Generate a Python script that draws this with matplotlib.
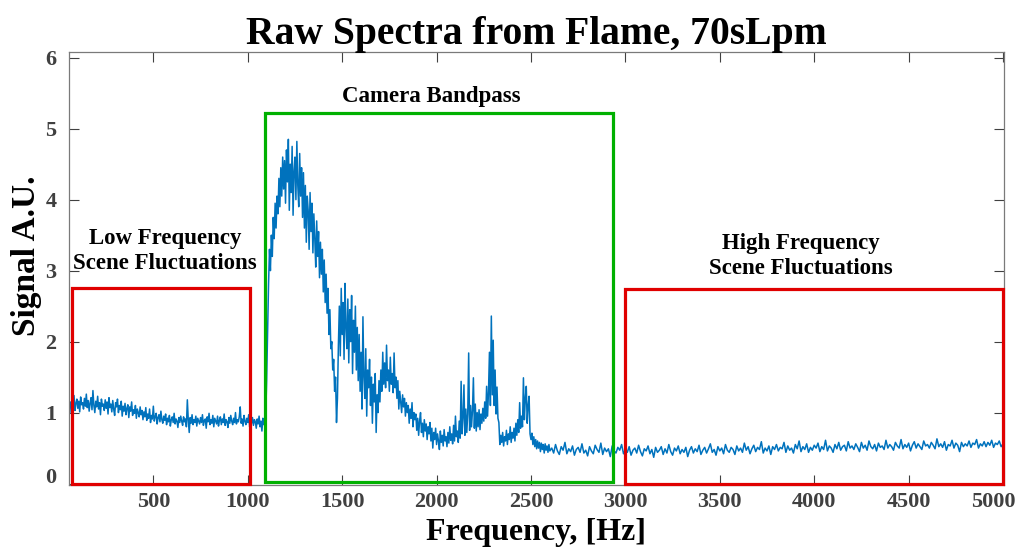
import numpy as np
import matplotlib
matplotlib.use("Agg")
import matplotlib.pyplot as plt
import matplotlib.transforms as mtransforms
from matplotlib.patches import Rectangle

# Spectrum sampled on three frequency grids [Hz]
freq_low = np.arange(50, 1090, 5)
signal_low = [
    1.21, 1.08, 1.15, 0.99, 1.17, 1.10, 1.24, 1.03, 1.13, 1.19, 1.06, 1.16, 1.01, 1.22, 1.11, 1.14, 1.05, 1.20, 1.09, 1.26,
    1.07, 1.17, 1.02, 1.13, 1.21, 1.04, 1.31, 1.10, 1.00, 1.16, 1.08, 1.23, 1.05, 1.14, 0.97, 1.19, 1.09, 1.12, 1.03, 1.18,
    1.06, 1.15, 0.98, 1.21, 1.07, 1.12, 1.01, 1.17, 1.05, 0.96, 1.14, 1.08, 1.19, 1.00, 1.10, 1.04, 1.16, 0.95, 1.09, 1.02,
    1.13, 0.97, 1.06, 1.11, 0.93, 1.08, 1.02, 1.15, 0.96, 1.04, 0.99, 1.10, 0.92, 1.05, 1.00, 0.94, 1.08, 0.97, 1.03, 0.90,
    1.01, 0.94, 1.07, 0.89, 0.98, 0.92, 1.05, 0.86, 0.96, 0.91, 1.09, 0.88, 0.94, 0.99, 0.84, 0.93, 0.97, 0.87, 1.02, 0.90,
    0.85, 0.95, 0.89, 0.98, 0.83, 0.92, 0.87, 0.96, 0.81, 0.90, 0.94, 0.86, 0.99, 0.84, 0.91, 0.88, 0.79, 0.93, 0.86, 0.95,
    0.88, 0.82, 0.94, 0.87, 0.91, 0.80, 1.18, 0.89, 0.72, 0.93, 0.85, 0.97, 0.83, 0.90, 0.86, 0.95, 0.81, 0.92, 0.88, 0.84,
    0.93, 0.86, 0.97, 0.82, 0.89, 0.91, 0.78, 0.94, 0.87, 0.99, 0.83, 0.90, 0.85, 0.96, 0.80, 0.92, 0.88, 0.84, 0.95, 0.81,
    0.89, 0.94, 0.83, 0.91, 0.86, 0.98, 0.82, 0.90, 0.87, 0.79, 0.93, 0.85, 0.96, 0.88, 0.83, 0.92, 0.86, 1.00, 0.84, 0.90,
    0.87, 0.94, 1.08, 0.85, 0.91, 0.81, 0.96, 0.88, 0.83, 0.92, 0.86, 0.97, 0.80, 0.89, 0.85, 0.93, 0.82, 0.90, 0.87, 0.78,
    0.91, 0.84, 0.95, 0.80, 0.88, 0.74, 0.92, 0.83,
]

freq_cam = np.arange(1090, 2605, 5)
signal_cam = [
    0.84, 0.95, 1.45, 2.10, 2.80, 3.30, 3.00, 3.50, 3.20, 3.75, 3.45, 3.95, 3.60, 4.05, 3.80, 4.30, 3.90, 4.45, 4.05, 4.60,
    4.15, 4.55, 3.95, 4.70, 4.25, 4.85, 3.85, 4.50, 4.10, 4.75, 3.78, 4.40, 4.60, 4.00, 4.82, 4.20, 3.90, 4.65, 4.05, 4.45,
    3.75, 4.38, 3.60, 4.20, 3.40, 4.05, 3.85, 3.30, 4.10, 3.55, 3.95, 3.25, 3.80, 3.45, 3.05, 3.70, 3.20, 3.55, 2.90, 3.40,
    2.95, 3.30, 2.70, 3.15, 2.55, 2.95, 2.40, 2.75, 2.10, 2.45, 1.90, 2.00, 1.60, 1.75, 1.30, 1.50, 0.86, 1.20, 1.95, 2.50,
    1.80, 2.75, 2.10, 2.55, 1.75, 2.82, 2.20, 1.90, 2.60, 1.70, 2.45, 2.00, 2.65, 1.55, 2.30, 1.85, 2.50, 1.60, 2.20, 1.45,
    2.10, 1.30, 1.85, 1.05, 2.35, 1.50, 1.20, 1.90, 0.95, 1.60, 1.35, 1.75, 1.10, 1.50, 0.85, 1.40, 1.15, 1.55, 0.72, 1.25,
    1.00, 1.45, 1.15, 1.60, 1.30, 1.85, 1.40, 1.70, 1.35, 1.95, 1.45, 1.60, 1.30, 1.78, 1.40, 1.55, 1.28, 1.84, 1.35, 1.50,
    1.20, 1.45, 1.05, 1.30, 1.15, 1.00, 1.25, 1.08, 1.20, 0.95, 1.14, 1.00, 1.10, 0.85, 1.05, 0.92, 1.14, 0.80, 1.00, 0.90,
    0.98, 0.75, 0.92, 0.68, 0.88, 1.00, 0.72, 0.85, 0.66, 0.90, 0.74, 0.84, 0.62, 0.80, 0.70, 0.86, 0.60, 0.78, 0.50, 0.72,
    0.62, 0.78, 0.55, 0.70, 0.60, 0.48, 0.74, 0.58, 0.68, 0.53, 0.76, 0.60, 0.66, 0.52, 0.72, 0.57, 0.80, 0.61, 0.70, 0.56,
    0.82, 0.60, 0.95, 0.66, 0.74, 0.58, 0.88, 0.64, 1.44, 0.70, 0.92, 1.39, 0.68, 1.05, 0.72, 0.98, 1.84, 0.75, 1.10, 0.80,
    1.02, 1.49, 0.78, 1.12, 0.74, 1.00, 0.80, 1.04, 0.76, 0.98, 0.85, 1.06, 0.88, 1.15, 0.92, 1.37, 0.95, 1.30, 1.85, 1.10,
    2.36, 1.25, 2.02, 1.10, 1.60, 0.98, 1.36, 0.92, 0.86, 0.55, 0.68, 0.58, 0.72, 0.53, 0.66, 0.60, 0.75, 0.55, 0.70, 0.62,
    0.80, 0.58, 0.72, 0.64, 0.78, 0.60, 0.85, 0.68, 0.90, 0.72, 1.14, 0.78, 0.95, 0.80, 1.49, 0.90, 1.20, 1.37, 0.85, 1.10,
    1.23, 0.70, 0.62, 0.71, 0.55, 0.66, 0.52, 0.62, 0.49, 0.60, 0.50, 0.58, 0.45, 0.57, 0.48, 0.55, 0.43, 0.56, 0.47, 0.53,
    0.44, 0.55, 0.46,
]

freq_high = np.arange(2610, 5001, 10)
signal_high = [
    0.50, 0.43, 0.55, 0.46, 0.41, 0.52, 0.47, 0.58, 0.42, 0.49, 0.45, 0.53, 0.40, 0.48, 0.51, 0.44, 0.56, 0.43, 0.47, 0.39,
    0.52, 0.46, 0.42, 0.54, 0.48, 0.44, 0.57, 0.41, 0.50, 0.45, 0.49, 0.38, 0.53, 0.46, 0.43, 0.51, 0.47, 0.55, 0.42, 0.48,
    0.44, 0.52, 0.40, 0.47, 0.50, 0.43, 0.54, 0.45, 0.39, 0.49, 0.46, 0.53, 0.42, 0.48, 0.37, 0.51, 0.44, 0.47, 0.52, 0.41,
    0.49, 0.43, 0.55, 0.45, 0.40, 0.50, 0.46, 0.53, 0.42, 0.48, 0.44, 0.51, 0.38, 0.47, 0.52, 0.43, 0.49, 0.45, 0.54, 0.41,
    0.47, 0.51, 0.43, 0.49, 0.56, 0.44, 0.48, 0.40, 0.52, 0.46, 0.50, 0.42, 0.55, 0.47, 0.44, 0.51, 0.48, 0.41, 0.53, 0.46,
    0.50, 0.44, 0.57, 0.47, 0.52, 0.42, 0.49, 0.54, 0.45, 0.51, 0.48, 0.59, 0.43, 0.50, 0.46, 0.53, 0.41, 0.52, 0.48, 0.55,
    0.46, 0.51, 0.49, 0.58, 0.44, 0.53, 0.47, 0.50, 0.43, 0.55, 0.49, 0.60, 0.45, 0.52, 0.48, 0.56, 0.44, 0.51, 0.47, 0.54,
    0.50, 0.57, 0.45, 0.52, 0.48, 0.61, 0.46, 0.53, 0.50, 0.44, 0.55, 0.49, 0.58, 0.47, 0.52, 0.54, 0.46, 0.59, 0.50, 0.53,
    0.48, 0.56, 0.51, 0.45, 0.58, 0.50, 0.54, 0.47, 0.60, 0.52, 0.49, 0.55, 0.46, 0.57, 0.51, 0.53, 0.48, 0.61, 0.50, 0.55,
    0.52, 0.47, 0.58, 0.53, 0.50, 0.62, 0.49, 0.55, 0.51, 0.57, 0.46, 0.54, 0.59, 0.50, 0.56, 0.52, 0.48, 0.60, 0.53, 0.55,
    0.50, 0.58, 0.54, 0.49, 0.63, 0.52, 0.56, 0.51, 0.59, 0.47, 0.55, 0.53, 0.61, 0.50, 0.57, 0.54, 0.45, 0.58, 0.52, 0.56,
    0.53, 0.60, 0.51, 0.57, 0.55, 0.62, 0.50, 0.56, 0.53, 0.59, 0.52, 0.58, 0.54, 0.61, 0.51, 0.57, 0.55, 0.60, 0.52, 0.56,
]

# Highlighted regions: (f_start, f_end, height)
low_region = (70, 1014, 2.76)
camera_region = (1092, 2933, 5.22)
high_region = (2998, 5000, 2.74)

x_ticks = [500, 1000, 1500, 2000, 2500, 3000, 3500, 4000, 4500, 5000]
y_ticks = [0, 1, 2, 3, 4, 5, 6]

FONT = "Liberation Serif"
AX_GRAY = "#404040"

freq = np.concatenate([freq_low, freq_cam, freq_high])
signal = np.concatenate([signal_low, signal_cam, signal_high])

fig = plt.figure(figsize=(10.23, 5.52), dpi=100)
ax = fig.add_axes([0.0674, 0.1214, 0.9140, 0.7844])

ax.plot(freq, signal, color="#0072BD", lw=1.1)

def box(region, color, bottom=0.0):
    f0, f1, h = region
    ax.add_patch(Rectangle((f0, bottom), f1 - f0, h - bottom, fill=False,
                           edgecolor=color, lw=2.3, zorder=3, clip_on=False))

box(low_region, "#E00000")
box(camera_region, "#00B000", bottom=0.02)
box(high_region, "#E00000")

ANN = dict(fontfamily=FONT, fontweight="bold", fontsize=16.5,
           color="black", ha="center", va="center", linespacing=1.25)
ax.text(1971, 5.45, "Camera Bandpass", **ANN)
ax.text(563, 3.27, "Low Frequency\nScene Fluctuations", **ANN)
ax.text(3931, 3.2, "High Frequency\nScene Fluctuations", **ANN)

ax.set_xlim(53, 5005)
ax.set_ylim(-0.02, 6.08)
ax.set_xticks(x_ticks)
ax.set_yticks(y_ticks)
ax.tick_params(direction="in", length=7, width=0.8, top=True, right=True,
               colors=AX_GRAY, labelsize=16)
ax.tick_params(axis="y", pad=9)
ax.tick_params(axis="x", pad=5)
for lab in ax.get_xticklabels() + ax.get_yticklabels():
    lab.set_fontfamily(FONT)
    lab.set_fontweight("bold")
    lab.set_color(AX_GRAY)
for sp in ax.spines.values():
    sp.set_color("#7a7a7a")
    sp.set_linewidth(0.9)

# Nudge the end labels inward so they stay clear of the corners
xlabels = ax.get_xticklabels()
xlabels[-1].set_transform(xlabels[-1].get_transform() +
                          mtransforms.ScaledTranslation(-7 / 72, 0, fig.dpi_scale_trans))
ylabels = ax.get_yticklabels()
ylabels[0].set_transform(ylabels[0].get_transform() +
                         mtransforms.ScaledTranslation(0, 6 / 72, fig.dpi_scale_trans))

ax.set_title("Raw Spectra from Flame, 70sLpm", fontfamily=FONT,
             fontweight="bold", fontsize=28.5, pad=6)
ax.set_xlabel("Frequency, [Hz]", fontfamily=FONT, fontweight="bold",
              fontsize=23)
ax.set_ylabel("Signal A.U.", fontfamily=FONT, fontweight="bold",
              fontsize=24)
ax.xaxis.set_label_coords(0.5, -0.077)
ax.yaxis.set_label_coords(-0.029, 0.529)

fig.savefig("out.png", dpi=100)
